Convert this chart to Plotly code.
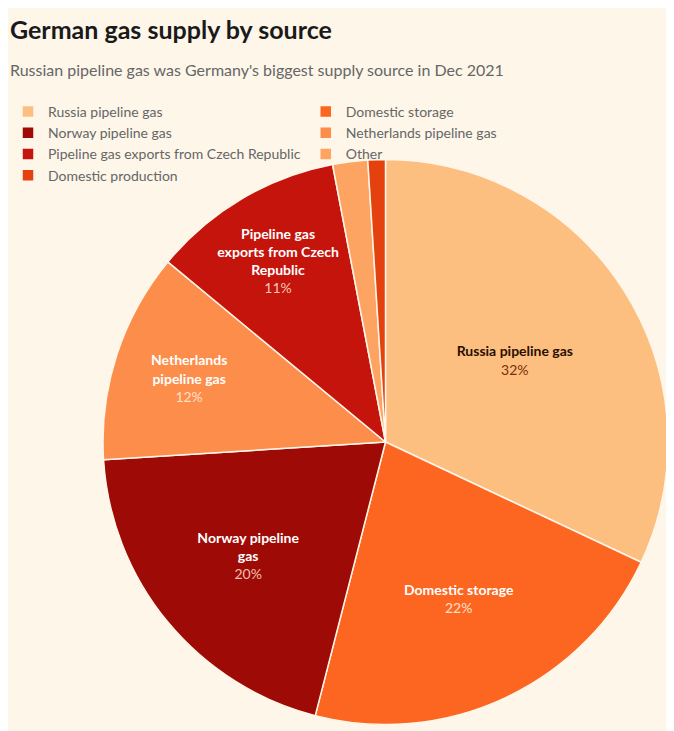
import plotly.graph_objects as go

labels = ["Russia pipeline gas", "Domestic storage", "Norway pipeline gas", "Netherlands pipeline gas",
          "Pipeline gas exports from Czech Republic", "Other", "Domestic production"]
values = [32, 22, 20, 12, 11, 2, 1]
colors = ["#fdbf80", "#fc6621", "#9e0a05", "#fd8d4a", "#c4140c", "#fda462", "#e4410f"]
slice_text = [
    "<b>Russia pipeline gas</b><br><span style='color:#7a2e08'>32%</span>",
    "<b>Domestic storage</b><br><span style='color:#ffe0cc'>22%</span>",
    "<b>Norway pipeline<br>gas</b><br><span style='color:#f2c0b0'>20%</span>",
    "<b>Netherlands<br>pipeline gas</b><br><span style='color:#ffe0cc'>12%</span>",
    "<b>Pipeline gas<br>exports from Czech<br>Republic</b><br><span style='color:#f5c8b8'>11%</span>",
    "", ""]
text_colors = ["#2a0f00", "white", "white", "white", "white", "white", "white"]

fig = go.Figure(go.Pie(
    labels=labels, values=values, text=slice_text, textinfo="text",
    sort=False, direction="clockwise", rotation=0,
    marker=dict(colors=colors, line=dict(color="#fdf6e9", width=1.5)),
    textfont=dict(size=14, color=text_colors, family="Lato"),
    insidetextorientation="horizontal", textposition="inside",
    hoverinfo="label+percent",
    domain=dict(x=[95/674, 660/674], y=[1-717/731, 1-151/731]),
))
fig.update_layout(
    width=674, height=731, margin=dict(l=0, r=0, t=0, b=0),
    paper_bgcolor="#fdf6e9", plot_bgcolor="#fdf6e9",
    font=dict(family="Lato", color="#555"),
    legend=dict(orientation="h", x=0, y=1-88/731, xanchor="left", yanchor="top",
                font=dict(size=14, color="#666"), itemwidth=30, tracegroupgap=0,
                bgcolor="rgba(0,0,0,0)"),
    annotations=[
        dict(text="<b>German gas supply by source</b>", x=0, y=1-4/731, xref="paper", yref="paper",
             xanchor="left", yanchor="top", showarrow=False, font=dict(size=25, color="#1a1a1a")),
        dict(text="Russian pipeline gas was Germany's biggest supply source in Dec 2021", x=0, y=1-50/731,
             xref="paper", yref="paper", xanchor="left", yanchor="top", showarrow=False,
             font=dict(size=16, color="#666")),
    ],
)
fig.write_html("out.html")
